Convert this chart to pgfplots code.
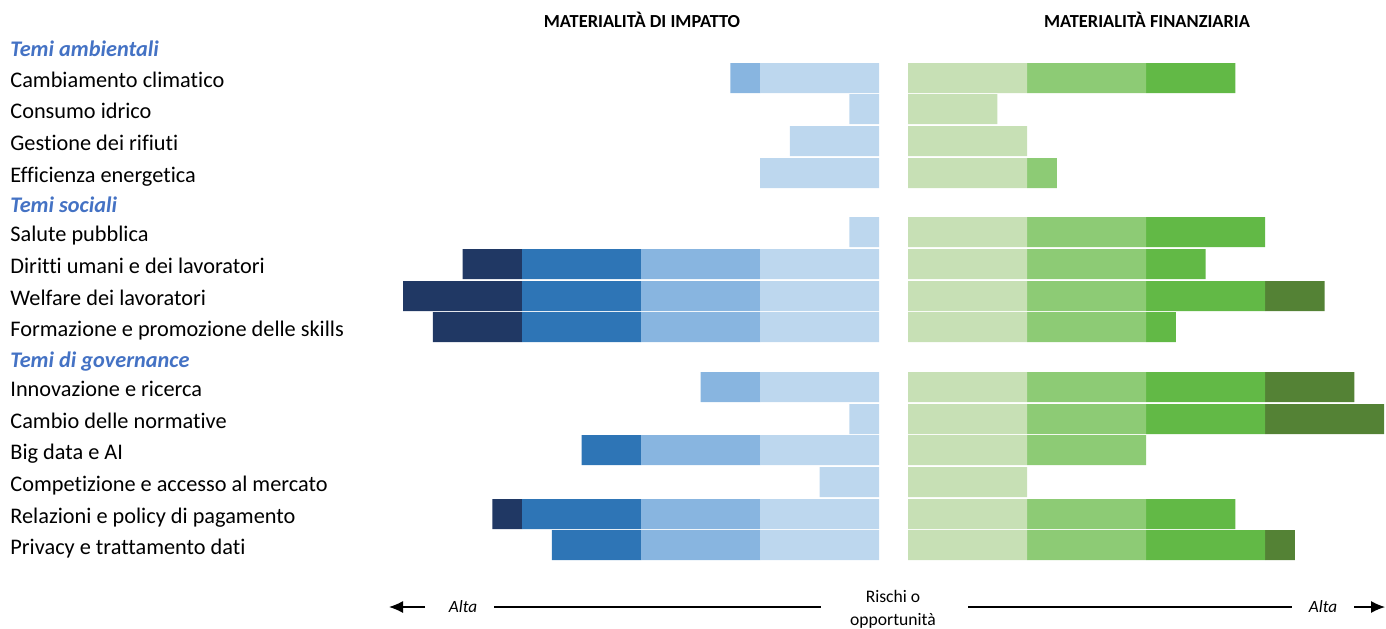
\documentclass[border=0pt]{standalone}
\usepackage{pgfplots}
\pgfplotsset{compat=1.18}
\usepackage{pgfplotstable}
\usepackage{fontspec}
\setmainfont{Carlito}[Ligatures={NoCommon,NoContextual}]
\usetikzlibrary{arrows.meta}

\definecolor{b1}{HTML}{BDD7EE}
\definecolor{b2}{HTML}{88B5E0}
\definecolor{b3}{HTML}{2E75B6}
\definecolor{b4}{HTML}{203864}
\definecolor{g1}{HTML}{C7E0B5}
\definecolor{g2}{HTML}{8DCB75}
\definecolor{g3}{HTML}{62B946}
\definecolor{g4}{HTML}{548235}
\definecolor{hdr}{HTML}{4472C4}

% y = row centre (pixel row), s1..s4 = the four unit segments
\pgfplotstableread{
y   s1   s2   s3   s4
78  1    0.25 0    0
109 0.25 0    0    0
141 0.75 0    0    0
173 1    0    0    0
232 0.25 0    0    0
264 1    1    1    0.5
296 1    1    1    1
327 1    1    1    0.75
387 1    0.5  0    0
419 0.25 0    0    0
450 1    1    0.5  0
482 0.5  0    0    0
514 1    1    1    0.25
545 1    1    0.75 0
}\impact

\pgfplotstableread{
y   s1   s2   s3   s4
78  1    1    0.75 0
109 0.75 0    0    0
141 1    0    0    0
173 1    0.25 0    0
232 1    1    1    0
264 1    1    0.5  0
296 1    1    1    0.5
327 1    1    0.25 0
387 1    1    1    0.75
419 1    1    1    1
450 1    1    0    0
482 1    0    0    0
514 1    1    0.75 0
545 1    1    1    0.25
}\finance

\pgfplotsset{halfaxis/.style={scale only axis, width=238pt, height=265pt,
  xmin=0, xmax=4, ymin=40, ymax=570, y dir=reverse, axis lines=none,
  ticks=none, xbar stacked, bar width=30, clip=false}}

\newcommand{\lab}[2]{\node[anchor=base west, inner sep=0pt, font=\fontsize{11.15}{13}\selectfont] at (5pt,{(628-#1-9.8)*0.5pt}) {#2};}
\newcommand{\hd}[2]{\node[anchor=base west, inner sep=0pt, text=hdr, font=\fontsize{11.15}{13}\selectfont\bfseries\itshape] at (5pt,{(628-#1-1)*0.5pt}) {#2};}

\begin{document}
\begin{tikzpicture}
\path[use as bounding box] (0,0) rectangle (693pt,314pt);

\begin{axis}[halfaxis, x dir=reverse, at={(439.5pt,294pt)}, anchor=north east]
\addplot[fill=b1, draw=none] table[x=s1, y=y] {\impact};
\addplot[fill=b2, draw=none] table[x=s2, y=y] {\impact};
\addplot[fill=b3, draw=none] table[x=s3, y=y] {\impact};
\addplot[fill=b4, draw=none] table[x=s4, y=y] {\impact};
\end{axis}

\begin{axis}[halfaxis, at={(454pt,294pt)}, anchor=north west]
\addplot[fill=g1, draw=none] table[x=s1, y=y] {\finance};
\addplot[fill=g2, draw=none] table[x=s2, y=y] {\finance};
\addplot[fill=g3, draw=none] table[x=s3, y=y] {\finance};
\addplot[fill=g4, draw=none] table[x=s4, y=y] {\finance};
\end{axis}

\hd{56}{Temi ambientali}
\lab{78}{Cambiamento climatico}
\lab{109}{Consumo idrico}
\lab{141}{Gestione dei rifiuti}
\lab{173}{Efficienza energetica}
\hd{211}{Temi sociali}
\lab{232}{Salute pubblica}
\lab{264}{Diritti umani e dei lavoratori}
\lab{296}{Welfare dei lavoratori}
\lab{327}{Formazione e promozione delle skills}
\hd{366}{Temi di governance}
\lab{387}{Innovazione e ricerca}
\lab{419}{Cambio delle normative}
\lab{450}{Big data e AI}
\lab{482}{Competizione e accesso al mercato}
\lab{514}{Relazioni e policy di pagamento}
\lab{545}{Privacy e trattamento dati}

\node[anchor=base, inner sep=0pt, font=\fontsize{9.2}{11}\selectfont\bfseries] at ({642*0.5pt},{(628-27.5)*0.5pt}) {MATERIALITÀ DI IMPATTO};
\node[anchor=base, inner sep=0pt, font=\fontsize{9.2}{11}\selectfont\bfseries] at ({1147*0.5pt},{(628-27.5)*0.5pt}) {MATERIALITÀ FINANZIARIA};

\draw[line width=0.6pt, -{Latex[length=7pt,width=6pt]}] ({425*0.5pt},{(628-607)*0.5pt}) -- ({389*0.5pt},{(628-607)*0.5pt});
\node[anchor=base, inner sep=0pt, font=\fontsize{8.6}{10}\selectfont\itshape] at ({463*0.5pt},{(628-612)*0.5pt}) {Alta};
\draw[line width=0.6pt] ({494*0.5pt},{(628-607)*0.5pt}) -- ({821*0.5pt},{(628-607)*0.5pt});
\node[anchor=base, inner sep=0pt, font=\fontsize{8.8}{10}\selectfont] at ({893*0.5pt},{(628-602)*0.5pt}) {Rischi o};
\node[anchor=base, inner sep=0pt, font=\fontsize{8.8}{10}\selectfont] at ({893*0.5pt},{(628-625)*0.5pt}) {opportunità};
\draw[line width=0.6pt] ({968*0.5pt},{(628-607)*0.5pt}) -- ({1292*0.5pt},{(628-607)*0.5pt});
\node[anchor=base, inner sep=0pt, font=\fontsize{8.6}{10}\selectfont\itshape] at ({1323*0.5pt},{(628-612)*0.5pt}) {Alta};
\draw[line width=0.6pt, -{Latex[length=7pt,width=6pt]}] ({1354*0.5pt},{(628-607)*0.5pt}) -- ({1385*0.5pt},{(628-607)*0.5pt});
\end{tikzpicture}
\end{document}
